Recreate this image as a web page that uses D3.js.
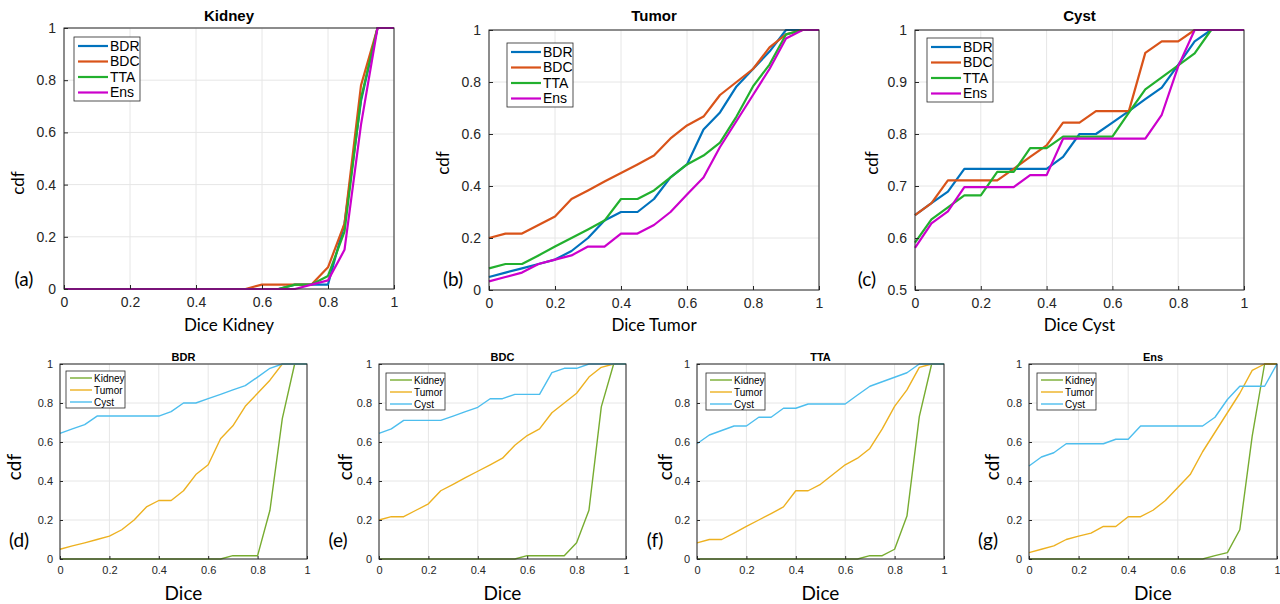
<!DOCTYPE html>
<html>
<head>
<meta charset="utf-8">
<script src="https://cdn.jsdelivr.net/npm/d3@7"></script>
<style>
  body { margin: 0; background: #fff; }
  svg { display: block; }
</style>
</head>
<body>
<svg id="chart" width="1280" height="604"></svg>
<script>
// dice thresholds (x axis)
var dice = [0, 0.05, 0.1, 0.15, 0.2, 0.25, 0.3, 0.35, 0.4, 0.45, 0.5, 0.55, 0.6, 0.65, 0.7, 0.75, 0.8, 0.85, 0.9, 0.95, 1];

// kidney cdf per method
var kidneyBDR = [0, 0, 0, 0, 0, 0, 0, 0, 0, 0, 0, 0, 0, 0, 0.017, 0.017, 0.017, 0.25, 0.72, 1, 1];
var kidneyBDC = [0, 0, 0, 0, 0, 0, 0, 0, 0, 0, 0, 0, 0.017, 0.017, 0.017, 0.017, 0.083, 0.25, 0.78, 1, 1];
var kidneyTTA = [0, 0, 0, 0, 0, 0, 0, 0, 0, 0, 0, 0, 0, 0, 0.017, 0.017, 0.05, 0.22, 0.73, 1, 1];
var kidneyEns = [0, 0, 0, 0, 0, 0, 0, 0, 0, 0, 0, 0, 0, 0, 0, 0.017, 0.033, 0.15, 0.63, 1, 1];

// tumor cdf per method
var tumorBDR = [0.05, 0.067, 0.083, 0.1, 0.117, 0.15, 0.2, 0.267, 0.3, 0.3, 0.35, 0.433, 0.483, 0.617, 0.683, 0.783, 0.85, 0.917, 1, 1, 1];
var tumorBDC = [0.2, 0.217, 0.217, 0.25, 0.283, 0.35, 0.383, 0.417, 0.45, 0.483, 0.517, 0.583, 0.633, 0.667, 0.75, 0.8, 0.85, 0.933, 0.983, 1, 1];
var tumorTTA = [0.083, 0.1, 0.1, 0.133, 0.167, 0.2, 0.233, 0.267, 0.35, 0.35, 0.383, 0.433, 0.483, 0.517, 0.567, 0.667, 0.783, 0.867, 0.983, 1, 1];
var tumorEns = [0.033, 0.05, 0.067, 0.1, 0.117, 0.133, 0.167, 0.167, 0.217, 0.217, 0.25, 0.3, 0.367, 0.433, 0.55, 0.65, 0.75, 0.85, 0.967, 1, 1];

// cyst cdf per method
var cystBDR = [0.644, 0.667, 0.689, 0.733, 0.733, 0.733, 0.733, 0.733, 0.733, 0.756, 0.8, 0.8, 0.822, 0.844, 0.867, 0.889, 0.933, 0.978, 1, 1, 1];
var cystBDC = [0.644, 0.667, 0.711, 0.711, 0.711, 0.711, 0.733, 0.756, 0.778, 0.822, 0.822, 0.844, 0.844, 0.844, 0.956, 0.978, 0.978, 1, 1, 1, 1];
var cystTTA = [0.591, 0.636, 0.659, 0.682, 0.682, 0.727, 0.727, 0.773, 0.773, 0.795, 0.795, 0.795, 0.795, 0.841, 0.886, 0.909, 0.932, 0.955, 1, 1, 1];
var cystEns = [0.581, 0.628, 0.651, 0.698, 0.698, 0.698, 0.698, 0.721, 0.721, 0.791, 0.791, 0.791, 0.791, 0.791, 0.791, 0.837, 0.93, 1, 1, 1, 1];
// the Ens cyst curve in panel (g) is drawn from different numbers
var cystEnsG = [0.477, 0.523, 0.545, 0.591, 0.591, 0.591, 0.591, 0.614, 0.614, 0.682, 0.682, 0.682, 0.682, 0.682, 0.682, 0.727, 0.818, 0.886, 0.886, 0.886, 1];

var methods = ["BDR", "BDC", "TTA", "Ens"];
var organs = ["Kidney", "Tumor", "Cyst"];
var xTicks = [0, 0.2, 0.4, 0.6, 0.8, 1];
var yTicks = [0, 0.2, 0.4, 0.6, 0.8, 1];
var yTicksCyst = [0.5, 0.6, 0.7, 0.8, 0.9, 1];

var methodColors = {BDR: "#0072BD", BDC: "#D95319", TTA: "#22B02E", Ens: "#CC00CC"};
var organColors = {Kidney: "#77AC30", Tumor: "#EDB120", Cyst: "#4DBEEE"};

var svg = d3.select("#chart");
var axisFont = "Liberation Sans, Arial, sans-serif";
var labelFont = "Lato, Open Sans, sans-serif";

// one matlab-style axes box with lines and a legend
function drawPanel(p) {
    var x = d3.scaleLinear().domain([0, 1]).range([p.x0, p.x1]);
    var y = d3.scaleLinear().domain(p.yDomain).range([p.y1, p.y0]);
    var g = svg.append("g");

    // grid
    g.selectAll(".gx").data(xTicks).enter().append("line")
        .attr("x1", function(d) { return x(d); }).attr("x2", function(d) { return x(d); })
        .attr("y1", p.y0).attr("y2", p.y1)
        .attr("stroke", "#e6e6e6").attr("stroke-width", 1);
    g.selectAll(".gy").data(p.yTicks).enter().append("line")
        .attr("y1", function(d) { return y(d); }).attr("y2", function(d) { return y(d); })
        .attr("x1", p.x0).attr("x2", p.x1)
        .attr("stroke", "#e6e6e6").attr("stroke-width", 1);

    // curves
    var line = d3.line()
        .x(function(d, i) { return x(dice[i]); })
        .y(function(d) { return y(d); });
    p.series.forEach(function(s) {
        g.append("path").datum(s.values)
            .attr("d", line)
            .attr("fill", "none")
            .attr("stroke", s.color)
            .attr("stroke-width", p.lineWidth)
            .attr("stroke-linejoin", "round");
    });

    // axes with inward ticks
    var tk = p.small ? 3 : 4;
    var fs = p.small ? 11 : 14;
    var xAxis = g.append("g").attr("transform", "translate(0," + p.y1 + ")")
        .call(d3.axisBottom(x).tickValues(xTicks).tickSizeInner(-tk).tickSizeOuter(0).tickPadding(p.small ? 7 : 8)
            .tickFormat(d3.format("~g")));
    var yAxis = g.append("g").attr("transform", "translate(" + p.x0 + ",0)")
        .call(d3.axisLeft(y).tickValues(p.yTicks).tickSizeInner(-tk).tickSizeOuter(0).tickPadding(p.small ? 7 : 8)
            .tickFormat(d3.format("~g")));
    [xAxis, yAxis].forEach(function(a) {
        a.select(".domain").remove();
        a.selectAll("line").attr("stroke", "#262626");
        a.selectAll("text").attr("fill", "#262626").style("font-family", axisFont).style("font-size", fs + "px");
    });

    // box
    g.append("rect")
        .attr("x", p.x0).attr("y", p.y0)
        .attr("width", p.x1 - p.x0).attr("height", p.y1 - p.y0)
        .attr("fill", "none").attr("stroke", "#262626").attr("stroke-width", 1);

    // title
    g.append("text").attr("x", (p.x0 + p.x1) / 2).attr("y", p.titleY)
        .attr("text-anchor", "middle")
        .style("font-family", axisFont).style("font-weight", "bold")
        .style("font-size", (p.small ? 11 : 15) + "px").attr("fill", "#000")
        .text(p.title);

    // axis labels
    g.append("text").attr("transform", "translate(" + p.cdfX + "," + p.cdfY + ") rotate(-90)")
        .attr("text-anchor", "middle").attr("dy", "0.35em")
        .style("font-family", labelFont).style("font-size", (p.small ? 19 : 17) + "px")
        .text("cdf");
    g.append("text").attr("x", p.xlabX).attr("y", p.xlabY)
        .attr("text-anchor", "middle").attr("dy", "0.35em")
        .style("font-family", labelFont).style("font-size", (p.small ? 19 : 17) + "px")
        .text(p.xlabel);
    g.append("text").attr("x", p.tagX).attr("y", p.tagY)
        .attr("text-anchor", "middle").attr("dy", "0.35em")
        .style("font-family", labelFont).style("font-size", "19px")
        .text(p.tag);

    // legend
    var L = p.legend;
    var lg = g.append("g");
    lg.append("rect").attr("x", L.x).attr("y", L.y).attr("width", L.w).attr("height", L.h)
        .attr("fill", "#fff").attr("stroke", "#262626").attr("stroke-width", 0.8);
    p.series.forEach(function(s, i) {
        var ry = L.y + L.pad + i * L.step;
        lg.append("line").attr("x1", L.x + 4).attr("x2", L.x + L.lineLen + 4)
            .attr("y1", ry).attr("y2", ry)
            .attr("stroke", s.color).attr("stroke-width", p.lineWidth);
        lg.append("text").attr("x", L.x + L.lineLen + 6).attr("y", ry).attr("dy", "0.35em")
            .style("font-family", axisFont).style("font-size", L.fs + "px").attr("fill", "#000")
            .text(s.name);
    });
}

// top row: one organ per panel, one line per method
var topData = {
    Kidney: [kidneyBDR, kidneyBDC, kidneyTTA, kidneyEns],
    Tumor: [tumorBDR, tumorBDC, tumorTTA, tumorEns],
    Cyst: [cystBDR, cystBDC, cystTTA, cystEns]
};
var topBoxes = [
    {x0: 64, x1: 394, y0: 28, y1: 289, cdfX: 18, cdfY: 183, tagX: 24, tag: "(a)", legend: {x: 74, y: 37}},
    {x0: 489, x1: 819, y0: 30, y1: 290, cdfX: 443, cdfY: 163, tagX: 453, tag: "(b)", legend: {x: 507, y: 43}},
    {x0: 915, x1: 1244, y0: 30, y1: 290, cdfX: 872, cdfY: 163, tagX: 867, tag: "(c)", legend: {x: 927, y: 38}}
];
organs.forEach(function(o, k) {
    var b = topBoxes[k];
    drawPanel({
        x0: b.x0, x1: b.x1, y0: b.y0, y1: b.y1,
        yDomain: o === "Cyst" ? [0.5, 1] : [0, 1],
        yTicks: o === "Cyst" ? yTicksCyst : yTicks,
        series: methods.map(function(m, i) { return {name: m, color: methodColors[m], values: topData[o][i]}; }),
        lineWidth: 2.2, small: false,
        title: o, titleY: 21,
        cdfX: b.cdfX, cdfY: b.cdfY,
        xlabel: "Dice " + o, xlabX: (b.x0 + b.x1) / 2, xlabY: 325,
        tag: b.tag, tagX: b.tagX, tagY: 279,
        legend: {x: b.legend.x, y: b.legend.y, w: 66, h: 64, pad: 9, step: 15.5, lineLen: 30, fs: 14}
    });
});

// bottom row: one method per panel, one line per organ
var bottomData = {
    BDR: [kidneyBDR, tumorBDR, cystBDR],
    BDC: [kidneyBDC, tumorBDC, cystBDC],
    TTA: [kidneyTTA, tumorTTA, cystTTA],
    Ens: [kidneyEns, tumorEns, cystEnsG]
};
var bottomBoxes = [
    {x0: 60, x1: 307, cdfX: 14, tagX: 19, tag: "(d)", lx: 66},
    {x0: 379, x1: 626, cdfX: 345, tagX: 338, tag: "(e)", lx: 386},
    {x0: 697, x1: 944, cdfX: 665, tagX: 655, tag: "(f)", lx: 706},
    {x0: 1029, x1: 1277, cdfX: 992, tagX: 988, tag: "(g)", lx: 1037}
];
methods.forEach(function(m, k) {
    var b = bottomBoxes[k];
    drawPanel({
        x0: b.x0, x1: b.x1, y0: 364, y1: 559,
        yDomain: [0, 1], yTicks: yTicks,
        series: organs.map(function(o, i) { return {name: o, color: organColors[o], values: bottomData[m][i]}; }),
        lineWidth: 1.4, small: true,
        title: m, titleY: 361,
        cdfX: b.cdfX, cdfY: 467,
        xlabel: "Dice", xlabX: (b.x0 + b.x1) / 2, xlabY: 593,
        tag: b.tag, tagX: b.tagX, tagY: 540,
        legend: {x: b.lx, y: k === 0 ? 371 : 373, w: 59, h: 37, pad: 7, step: 12, lineLen: 22, fs: 10}
    });
});
</script>
</body>
</html>
